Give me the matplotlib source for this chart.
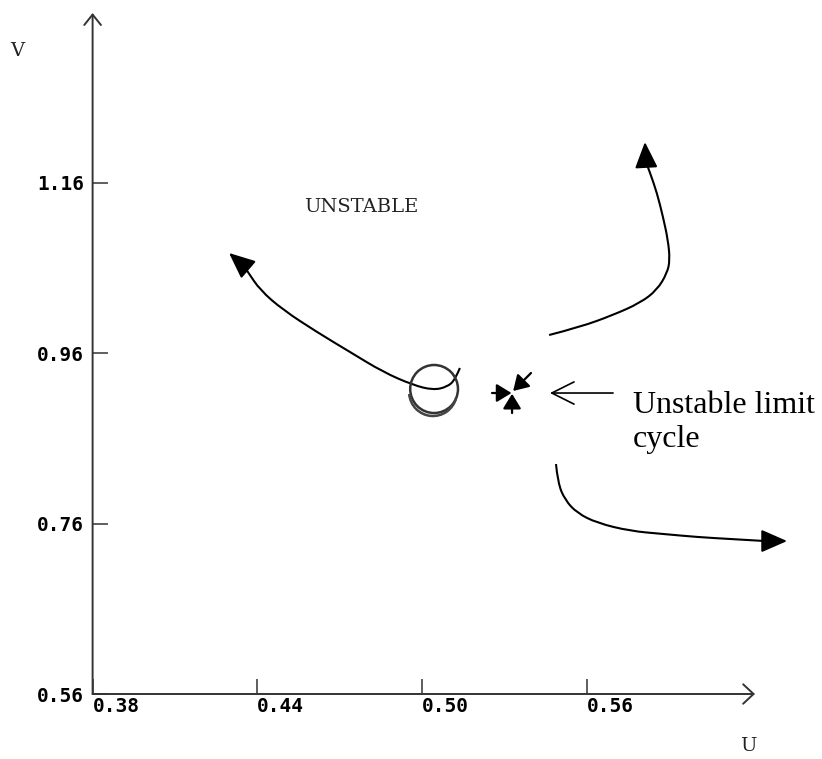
import matplotlib
matplotlib.use("Agg")
import matplotlib.pyplot as plt
from matplotlib.patches import Ellipse, Arc, PathPatch
from matplotlib.path import Path

# --- phase plane trajectories (U, V) ---
# spiral leaving the limit cycle towards upper left
left_u = [0.5138, 0.5120, 0.5091, 0.5040, 0.4967, 0.4858, 0.4738, 0.4617,
          0.4494, 0.4410, 0.4366, 0.4348, 0.4297]
left_v = [0.9428, 0.9287, 0.9205, 0.9169, 0.9228, 0.9381, 0.9615, 0.9850,
          1.0109, 1.0343, 1.0555, 1.0637, 1.0778]

# trajectory going up on the right
up_u = [0.5463, 0.5576, 0.5696, 0.5794, 0.5856, 0.5893, 0.5903, 0.5896,
        0.5878, 0.5856, 0.5831, 0.5816, 0.5812]
up_v = [0.9815, 0.9909, 1.0050, 1.0191, 1.0343, 1.0543, 1.0696, 1.0930,
        1.1201, 1.1482, 1.1717, 1.1846, 1.2081]

# trajectory going down/right
down_u = [0.5488, 0.5495, 0.5521, 0.5565, 0.5638, 0.5758, 0.5878, 0.6002,
          0.6122, 0.6250, 0.6330]
down_v = [0.8300, 0.8077, 0.7878, 0.7725, 0.7608, 0.7514, 0.7479, 0.7443,
          0.7420, 0.7396, 0.7396]

# small closed orbit (centre and half widths)
orbit_u0, orbit_v0 = 0.5044, 0.9181
orbit_du, orbit_dv = 0.0087, 0.0282

# small arrows converging on the unstable point
star_u_from = [0.5255, 0.5328, 0.5397]
star_v_from = [0.9134, 0.8899, 0.9369]
star_u_to = [0.5326, 0.5328, 0.5332]
star_v_to = [0.9134, 0.9125, 0.9158]

# pointer to the label
pointer_u = [0.5696, 0.5466]
pointer_v = [0.9134, 0.9134]

x_ticks = [0.38, 0.44, 0.50, 0.56]
y_ticks = [0.56, 0.76, 0.96, 1.16]
x_lim = (0.38, 0.6213)
y_lim = (0.56, 1.3596)

# -----------------------------------------------------------------------------
fig = plt.figure(figsize=(8.22, 7.59), dpi=100)
ax = fig.add_axes([92.6 / 822, 65 / 759, 662.4 / 822, 681 / 759])
ax.set_xlim(*x_lim)
ax.set_ylim(*y_lim)

for s in ax.spines.values():
    s.set_visible(False)

axis_col = "#333333"
# axes with open arrow heads
ax.annotate("", xy=(1, 0), xytext=(0, 0), xycoords="axes fraction",
            arrowprops=dict(arrowstyle="->,head_length=0.75,head_width=0.7",
                            mutation_scale=10, lw=1.4, color=axis_col,
                            shrinkA=0, shrinkB=0))
ax.annotate("", xy=(0, 1), xytext=(0, 0), xycoords="axes fraction",
            arrowprops=dict(arrowstyle="->,head_length=0.75,head_width=0.6",
                            mutation_scale=10, lw=1.4, color=axis_col,
                            shrinkA=0, shrinkB=0))

ax.set_xticks(x_ticks)
ax.set_xticklabels(["%.2f" % t for t in x_ticks])
ax.set_yticks(y_ticks)
ax.set_yticklabels(["%.2f" % t for t in y_ticks])
tick_font = dict(family="DejaVu Sans Mono", weight="bold", size=14)
ax.tick_params(axis="x", direction="in", length=11, width=1.1, color=axis_col, pad=2)
ax.tick_params(axis="y", direction="in", length=11, width=1.1, color=axis_col, pad=6)
for lab in ax.get_xticklabels():
    lab.set_fontproperties(tick_font)
    lab.set_ha("left")
for lab in ax.get_yticklabels():
    lab.set_fontproperties(tick_font)

head = "-|>,head_length=1.6,head_width=0.7"


def smooth_path(us, vs):
    # quadratic b-spline style path: read points act as control points
    pts = list(zip(us, vs))
    verts = [pts[0]]
    codes = [Path.MOVETO]
    for i in range(1, len(pts) - 2):
        mid = ((pts[i][0] + pts[i + 1][0]) / 2, (pts[i][1] + pts[i + 1][1]) / 2)
        verts += [pts[i], mid]
        codes += [Path.CURVE3, Path.CURVE3]
    verts += [pts[-2], pts[-1]]
    codes += [Path.CURVE3, Path.CURVE3]
    return Path(verts, codes)


def arrow_curve(us, vs):
    ax.add_patch(PathPatch(smooth_path(us[:-1], vs[:-1]), fill=False,
                           ec="black", lw=1.5, clip_on=False))
    ax.annotate("", xy=(us[-1], vs[-1]), xytext=(us[-2], vs[-2]),
                arrowprops=dict(arrowstyle=head, mutation_scale=10, lw=1.5,
                                color="black", shrinkA=0, shrinkB=0),
                annotation_clip=False)


arrow_curve(left_u, left_v)
arrow_curve(up_u, up_v)
arrow_curve(down_u, down_v)

# the small closed orbit
ax.add_patch(Ellipse((orbit_u0, orbit_v0), 2 * orbit_du, 2 * orbit_dv,
                     fill=False, ec="#333333", lw=1.8))
ax.add_patch(Arc((orbit_u0 - 0.0004, orbit_v0 - 0.0035), 2 * orbit_du,
                 2 * orbit_dv, theta1=195, theta2=320, ec="#444444", lw=1.8))

# converging arrows
for u0, v0, u1, v1 in zip(star_u_from, star_v_from, star_u_to, star_v_to):
    ax.annotate("", xy=(u1, v1), xytext=(u0, v0),
                arrowprops=dict(arrowstyle="-|>,head_length=0.9,head_width=0.55",
                                mutation_scale=10, lw=1.6, color="black",
                                shrinkA=0, shrinkB=0))

ax.annotate("", xy=(pointer_u[1], pointer_v[1]), xytext=(pointer_u[0], pointer_v[0]),
            arrowprops=dict(arrowstyle="->,head_length=1.6,head_width=0.8",
                            mutation_scale=10, lw=1.2, color="black",
                            shrinkA=0, shrinkB=0))

lab_font = dict(family="DejaVu Serif", size=14)
ax.text(0.4570, 1.1318, "UNSTABLE", ha="left", va="center", color="#222222", **lab_font)
fig.text(17 / 822, 1 - 51 / 759, "V", ha="center", va="center", color="#222222", **lab_font)
fig.text(748 / 822, 1 - 746 / 759, "U", ha="center", va="center", color="#222222", **lab_font)

serif = dict(family="Liberation Serif", size=23)
ax.text(0.5769, 0.8899, "Unstable limit", ha="left", va="baseline", **serif)
ax.text(0.5769, 0.8500, "cycle", ha="left", va="baseline", **serif)

fig.savefig("out.png", dpi=100)
